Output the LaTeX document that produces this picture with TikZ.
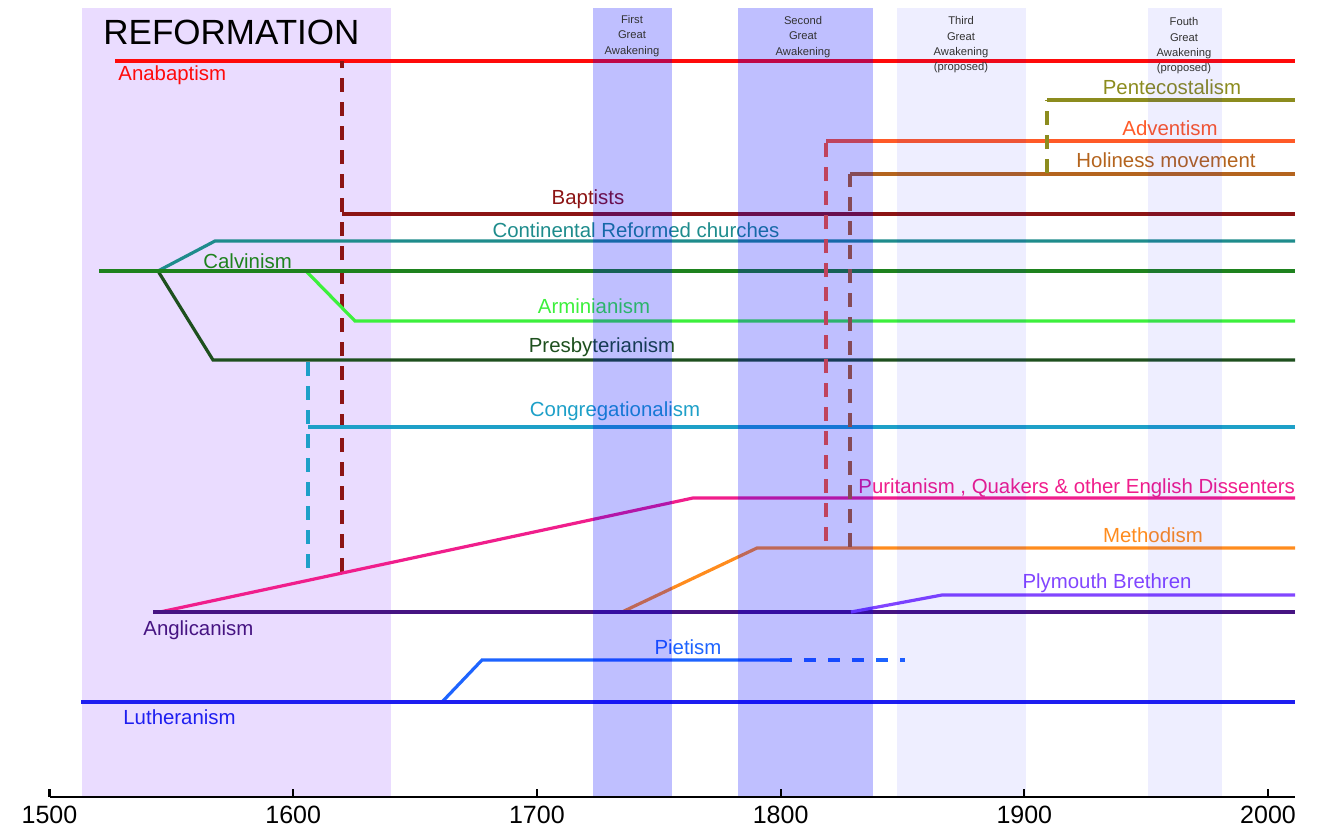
\documentclass[tikz,border=0pt]{standalone}
\usepackage{fontspec}
\setmainfont{Liberation Sans}
\definecolor{refband}{RGB}{234,220,255}
\definecolor{cAna}{RGB}{255,10,10}
\definecolor{cBap}{RGB}{140,20,20}
\definecolor{cCont}{RGB}{30,140,140}
\definecolor{cCalv}{RGB}{30,130,30}
\definecolor{cArm}{RGB}{60,240,60}
\definecolor{cPres}{RGB}{30,80,30}
\definecolor{cCong}{RGB}{30,160,200}
\definecolor{cPur}{RGB}{240,30,140}
\definecolor{cMeth}{RGB}{255,140,30}
\definecolor{cAdv}{RGB}{255,90,40}
\definecolor{cHol}{RGB}{180,100,30}
\definecolor{cPent}{RGB}{140,140,30}
\definecolor{cAng}{RGB}{70,20,130}
\definecolor{cPly}{RGB}{130,70,255}
\definecolor{cPie}{RGB}{30,100,255}
\definecolor{cLut}{RGB}{30,30,240}
\definecolor{awtext}{RGB}{50,50,50}
\begin{document}
\begin{tikzpicture}[x=0.5pt,y=-0.5pt,
  ln/.style={line width=1.6pt},
  dsh/.style={line width=1.7pt,dash pattern=on 7pt off 5pt},
  lbl/.style={inner sep=0pt,font=\fontsize{10.2}{12}\selectfont},
  awk/.style={inner sep=0pt,align=center,text=awtext,font=\fontsize{5.6}{7.7}\selectfont},
  yr/.style={inner sep=0pt,font=\fontsize{12.5}{14}\selectfont}]
\useasboundingbox (0,0) rectangle (1322,829);
% Reformation band
\fill[refband] (82,8) rectangle (391,797);
% Lines
\draw[ln,cAna] (115,61) coordinate (ana0) -- (1295,61) coordinate (ana1);
\draw[dsh,cBap] (342,572) coordinate (bapd0) -- (342,61) coordinate (bapd1);
\draw[ln,cBap] (342,214) coordinate (bap0) -- (1295,214) coordinate (bap1);
\draw[ln,cCont] (158,271) coordinate (split) -- (215,241) coordinate (cont0) -- (1295,241) coordinate (cont1);
\draw[ln,cPres] (split) -- (213,360) coordinate (pres0) -- (1295,360) coordinate (pres1);
\draw[ln,cArm] (306,271) coordinate (arm0) -- (355,321) coordinate (arm1) -- (1295,321) coordinate (arm2);
\draw[ln,cCalv] (99,271) coordinate (calv0) -- (1295,271) coordinate (calv1);
\draw[dsh,cCong] (308,362) coordinate (congd0) -- (308,576) coordinate (congd1);
\draw[ln,cCong] (308,427) coordinate (cong0) -- (1295,427) coordinate (cong1);
\draw[ln,cPur] (160,612) coordinate (pur0) -- (693,498) coordinate (pur1) -- (1295,498) coordinate (pur2);
\draw[ln,cMeth] (622,612) coordinate (meth0) -- (757,548) coordinate (meth1) -- (1295,548) coordinate (meth2);
\draw[dsh,cAdv] (826,541) coordinate (advd0) -- (826,141) coordinate (adv0);
\draw[ln,cAdv] (adv0) -- (1295,141) coordinate (adv1);
\draw[dsh,cHol] (850,547) coordinate (hold0) -- (850,174) coordinate (hol0);
\draw[ln,cHol] (hol0) -- (1295,174) coordinate (hol1);
\draw[dsh,cPent] (1047,173) coordinate (pentd0) -- (1047,100) coordinate (pent0);
\draw[ln,cPent] (pent0) -- (1295,100) coordinate (pent1);
\draw[ln,cAng] (153,612) coordinate (ang0) -- (1295,612) coordinate (ang1);
\draw[ln,cPly] (851,612) coordinate (ply0) -- (942,595) coordinate (ply1) -- (1295,595) coordinate (ply2);
\draw[ln,cPie] (442,702) coordinate (pie0) -- (482,660) coordinate (pie1) -- (780,660) coordinate (pie2);
\draw[ln,cPie,dash pattern=on 6pt off 6pt] (pie2) -- (905,660) coordinate (pie3);
\draw[ln,cLut] (81,702) coordinate (lut0) -- (1295,702) coordinate (lut1);
% Labels
\node[lbl,text=cAna,anchor=base west] (lAna) at (118,81) {Anabaptism};
\node[lbl,text=cBap,anchor=base] (lBap) at (588,204) {Baptists};
\node[lbl,text=cCont,anchor=base] (lCont) at (636,237) {Continental Reformed churches};
\node[lbl,text=cCalv,anchor=base west] (lCalv) at (203,268) {Calvinism};
\node[lbl,text=cArm,anchor=base] (lArm) at (594,313) {Arminianism};
\node[lbl,text=cPres,anchor=base] (lPres) at (602,352) {Presbyterianism};
\node[lbl,text=cCong,anchor=base] (lCong) at (615,416) {Congregationalism};
\node[lbl,text=cPur,anchor=base west] (lPur) at (858,493) {Puritanism , Quakers \& other English Dissenters};
\node[lbl,text=cMeth,anchor=base] (lMeth) at (1153,542) {Methodism};
\node[lbl,text=cPly,anchor=base] (lPly) at (1107,588) {Plymouth Brethren};
\node[lbl,text=cAng,anchor=base west] (lAng) at (143,635) {Anglicanism};
\node[lbl,text=cPie,anchor=base] (lPie) at (688,654) {Pietism};
\node[lbl,text=cLut,anchor=base west] (lLut) at (123,724) {Lutheranism};
\node[lbl,text=cPent,anchor=base] (lPent) at (1172,95) {Pentecostalism};
\node[lbl,text=cAdv,anchor=base] (lAdv) at (1170,135) {Adventism};
\node[lbl,text=cHol,anchor=base] (lHol) at (1166,167) {Holiness movement};
% Awakening bands (tinting what lies below)
\fill[blue,opacity=0.25] (593,8) rectangle (672,797);
\fill[blue,opacity=0.25] (738,8) rectangle (873,797);
\fill[blue,opacity=0.067] (897,8) rectangle (1026,797);
\fill[blue,opacity=0.067] (1148,8) rectangle (1222,797);
\node[awk] (aw1) at (632,36) {First\\Great\\Awakening};
\node[awk] (aw2) at (803,37) {Second\\Great\\Awakening};
\node[awk] (aw3) at (961,45) {Third\\Great\\Awakening\\(proposed)};
\node[awk] (aw4) at (1184,46) {Fouth\\Great\\Awakening\\(proposed)};
\node[inner sep=0pt,anchor=base west,font=\fontsize{17.5}{20}\selectfont] (lRef) at (103,45) {REFORMATION};
% Axis
\draw[line width=1.1pt,black] (49.5,797) coordinate (ax0) -- (1295,797) coordinate (ax1);
\foreach \y/\n in {1500/0,1600/1,1700/2,1800/3,1900/4,2000/5}{
  \draw[line width=1.1pt] (49.5+\n*243.7,797) -- (49.5+\n*243.7,789);
  \node[yr] (t\y) at (49.5+\n*243.7,815) {\y};
}
\end{tikzpicture}
\end{document}
